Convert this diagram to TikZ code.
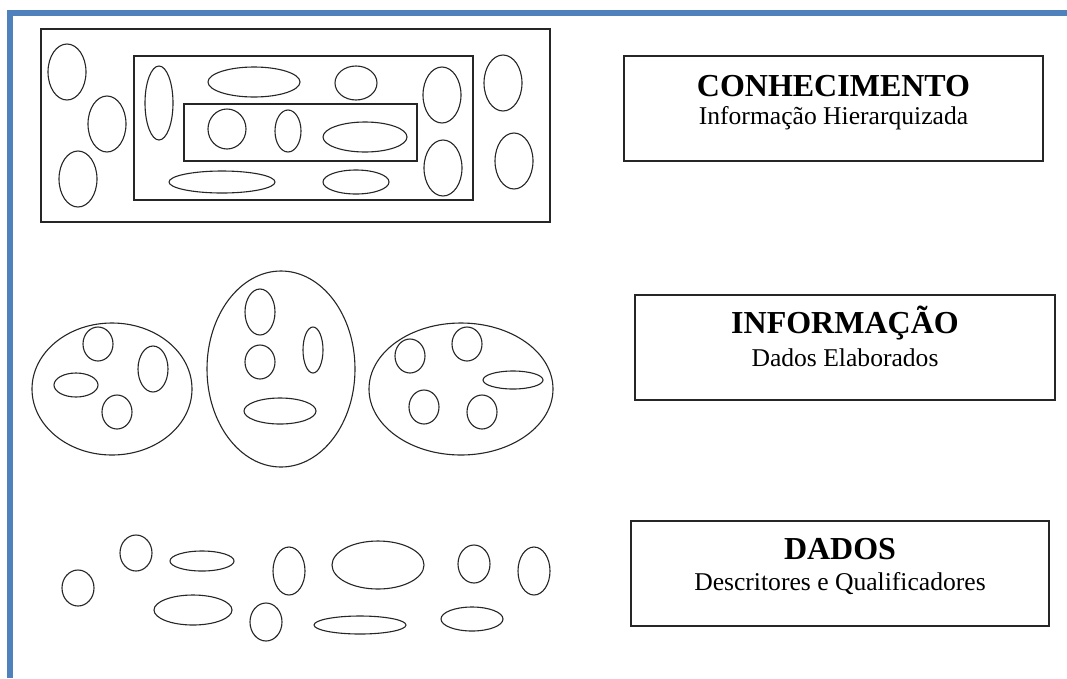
\documentclass[tikz,border=0pt]{standalone}
\usepackage{fontspec}
\setmainfont{Liberation Serif}
\definecolor{frameblue}{HTML}{4F81BD}
\begin{document}
\begin{tikzpicture}[x=1pt,y=-1pt,
  shape line/.style={draw=black!85,line width=1.1pt},
  levelbox/.style={draw=black!85,line width=1.1pt,rectangle,inner sep=0pt},
  leveltitle/.style={font=\bfseries\fontsize{32}{34}\selectfont,inner sep=0pt},
  levelsub/.style={font=\fontsize{25.6}{28}\selectfont,inner sep=0pt}]
\useasboundingbox (0,0) rectangle (1067,678);
\fill[white] (0,0) rectangle (1067,678);

% page frame
\fill[frameblue] (7,10) rectangle (1067,16);
\fill[frameblue] (7,10) rectangle (13,678);

% --- knowledge: nested rectangles ---
\draw[shape line] (41,29) rectangle (550,222);
\draw[shape line] (134,56) rectangle (473,200);
\draw[shape line] (184,104) rectangle (417,161);
\foreach \cx/\cy/\rx/\ry in {
  67/72/19/28, 107/124/19/28, 78/179/19/28,
  159/103/14/37, 254/82/46/15, 356/83/21/17,
  442/95/19/28, 443/168/19/28, 503/83/19/28, 514/161/19/28,
  227/129/19/20, 288/131/13/21, 365/137/42/15,
  222/182/53/11, 356/182/33/12}
  \draw[shape line] (\cx,\cy) ellipse [x radius=\rx, y radius=\ry];

% --- information: grouped ellipses ---
\foreach \cx/\cy/\rx/\ry in {
  112/389/80/66, 281/369/74/98, 461/389/92/66,
  98/344/15/17, 153/369/15/23, 76/385/22/12, 117/412/15/17,
  260/312/15/23, 260/362/15/17, 313/350/10/23, 280/411/36/13,
  410/356/15/17, 467/344/15/17, 513/380/30/9, 424/407/15/17, 482/412/15/17}
  \draw[shape line] (\cx,\cy) ellipse [x radius=\rx, y radius=\ry];

% --- data: loose ellipses ---
\foreach \cx/\cy/\rx/\ry in {
  78/588/16/18, 136/553/16/18, 202/561/32/10, 193/610/39/15,
  266/622/16/19, 289/571/16/24, 378/565/46/24, 360/625/46/9,
  474/564/16/19, 534/571/16/24, 472/619/31/12}
  \draw[shape line] (\cx,\cy) ellipse [x radius=\rx, y radius=\ry];

% --- level captions ---
\node[levelbox,minimum width=419pt,minimum height=105pt] (conh) at (833.5,108.5) {};
\node[leveltitle] (conhT) at ([yshift=22.5pt]conh.center) {CONHECIMENTO};
\node[levelsub] (conhS) at ([yshift=-10pt]conh.center) {Informação Hierarquizada};

\node[levelbox,minimum width=420pt,minimum height=105pt] (info) at (845,347.5) {};
\node[leveltitle] (infoT) at ([yshift=24.5pt]info.center) {INFORMAÇÃO};
\node[levelsub] (infoS) at ([yshift=-10pt]info.center) {Dados Elaborados};

\node[levelbox,minimum width=418pt,minimum height=105pt] (dados) at (840,573.5) {};
\node[leveltitle] (dadosT) at ([yshift=24.5pt]dados.center) {DADOS};
\node[levelsub] (dadosS) at ([yshift=-10pt]dados.center) {Descritores e Qualificadores};
\end{tikzpicture}
\end{document}
